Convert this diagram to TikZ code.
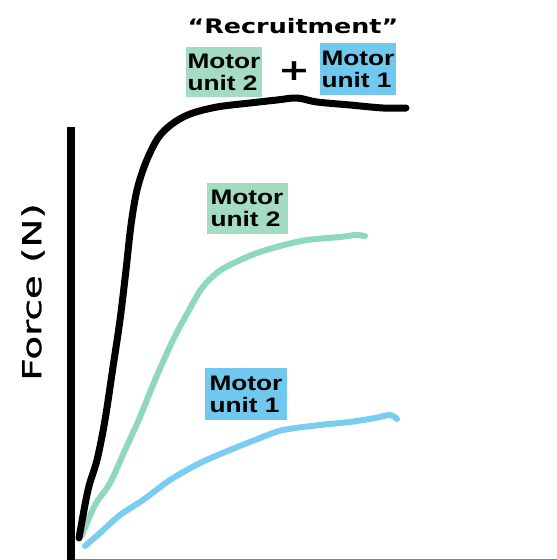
\documentclass[tikz,border=0pt]{standalone}
\usepackage{fontspec}
\newfontfamily\mufont[FakeStretch=1.25]{Liberation Sans}
\newfontfamily\hdfont[FakeStretch=1.27]{DejaVu Sans}
\newfontfamily\axfont[FakeStretch=1.5,FakeBold=1.2]{DejaVu Sans}
\definecolor{mugreen}{HTML}{A3DCC2}
\definecolor{mublue}{HTML}{70C8EE}
\definecolor{cgreen}{HTML}{8FD8BC}
\definecolor{cblue}{HTML}{7ACDF0}
\begin{document}
\begin{tikzpicture}[x=1pt,y=-1pt,
  mulabel/.style={inner xsep=2pt,inner ysep=2pt,font=\mufont\bfseries\fontsize{21}{22}\selectfont,align=left,text=black},
  greenbox/.style={mulabel,fill=mugreen},
  bluebox/.style={mulabel,fill=mublue},
  curve/.style={line width=6pt,line cap=round,line join=round}]
\useasboundingbox (0,0) rectangle (557,560);
\fill[white] (0,0) rectangle (557,560);
% axes
\draw[line width=8pt] (71,127) -- (71,560);
\draw[line width=1pt,gray] (75,559.5) -- (557,559.5);
% curves
\draw[curve,cblue] plot[smooth,tension=0.5] coordinates {(85,546) (100,533) (120,515) (143,500) (170,480) (200,463) (230,450) (260,438) (283,430) (320,425) (350,422) (375,418) (390,415) (397,419)};
\draw[curve,cgreen] plot[smooth,tension=0.55] coordinates {(82,535) (95,505) (110,483) (125,450) (140,417) (155,380) (173,340) (188,312) (202,288) (218,272) (236,262) (257,253) (280,246) (307,240) (340,237) (355,235) (365,236)};
\draw[curve,black,line width=7pt] plot[smooth,tension=0.55] coordinates {(79,538) (88,490) (97,460) (105,420) (113,367) (120,320) (126,270) (131,225) (137,190) (146,162) (158,138) (172,124) (190,114) (217,107) (250,103) (277,100) (297,98) (317,102) (350,105) (383,108) (406,108)};
% labels
\node[font=\hdfont\bfseries\fontsize{20}{22}\selectfont] (rec) at (293,26) {“Recruitment”};
\node[greenbox,minimum width=76pt,minimum height=50pt] (mu2t) at (224,72) {Motor\\unit 2};
\node[font=\hdfont\bfseries\fontsize{30}{30}\selectfont] (plus) at (294,71) {+};
\node[bluebox,minimum width=74pt,minimum height=52pt] (mu1t) at (358,69) {Motor\\unit 1};
\node[greenbox,minimum width=81pt,minimum height=51pt] (mu2) at (247,208) {Motor\\unit 2};
\node[bluebox,minimum width=82pt,minimum height=52pt] (mu1) at (246,394) {Motor\\unit 1};
\node[rotate=90,font=\axfont\fontsize{26}{28}\selectfont] (force) at (33,292) {Force (N)};
\end{tikzpicture}
\end{document}
